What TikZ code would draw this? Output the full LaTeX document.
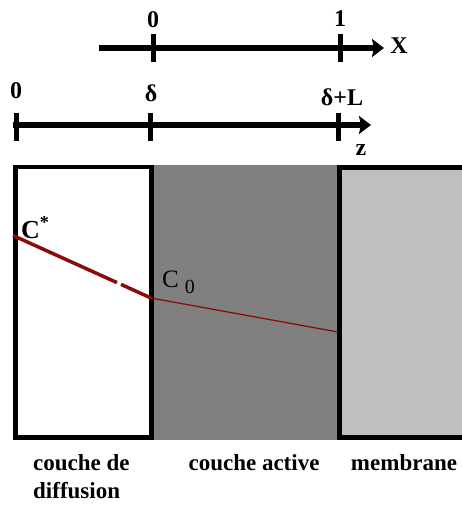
\documentclass[tikz,border=0pt]{standalone}
\usepackage{fontspec}
\usepackage{graphicx}
\setmainfont{Liberation Serif}
\usetikzlibrary{arrows.meta}
\definecolor{redline}{RGB}{140,10,10}
\definecolor{darkbox}{RGB}{128,128,128}
\definecolor{lightbox}{RGB}{191,191,191}
\begin{document}
\begin{tikzpicture}[x=1pt,y=-1pt,
 axis/.style={line width=6pt,-{Stealth[length=12pt,width=18pt,inset=2pt]}},
 tickline/.style={line width=5pt},
 lab/.style={inner sep=0pt,font=\fontsize{24}{24}\selectfont\bfseries},
 layer/.style={inner sep=0pt,font=\fontsize{23}{28}\selectfont\bfseries},
 border/.style={line width=4.5pt},
 thickprofile/.style={draw=redline,line width=3.5pt},
 thinprofile/.style={draw=redline,line width=1.3pt}]
\useasboundingbox (0,0) rectangle (462,505);
\fill[white] (0,0) rectangle (462,505);

% upper axis X
\coordinate (xa) at (99,48);
\coordinate (xb) at (384,48);
\draw[axis] (xa) -- (xb);
\coordinate (xt0a) at (153,34); \coordinate (xt0b) at (153,62);
\coordinate (xt1a) at (340,34); \coordinate (xt1b) at (340,62);
\draw[tickline] (xt0a) -- (xt0b);
\draw[tickline] (xt1a) -- (xt1b);
\node[lab] (x0) at (153,20) {0};
\node[lab] (x1) at (340,19) {1};
\node[lab] (xl) at (399,46) {X};

% lower axis z
\coordinate (za) at (13,125);
\coordinate (zb) at (371,125);
\draw[axis] (za) -- (zb);
\coordinate (zt0a) at (16,113); \coordinate (zt0b) at (16,141);
\coordinate (zt1a) at (150,113); \coordinate (zt1b) at (150,141);
\coordinate (zt2a) at (338,113); \coordinate (zt2b) at (338,141);
\draw[tickline] (zt0a) -- (zt0b);
\draw[tickline] (zt1a) -- (zt1b);
\draw[tickline] (zt2a) -- (zt2b);
\node[lab] (z0) at (16,91) {0};
\node[lab] (zd) at (151,93) {δ};
\node[lab] (zdl) at (342,97) {δ+L};
\node[lab] (zl) at (361,150) {z};

% layers
\begin{scope}
\clip (0,0) rectangle (462,505);
\fill[darkbox] (151,165) rectangle (339,440);
\draw[border,fill=lightbox] (339.5,167.5) rectangle (480,437.5);
\draw[border,fill=white] (15.5,167) rectangle (151.5,437.5);
\end{scope}

% concentration profile
\coordinate (cs) at (13,235.5);
\coordinate (g1) at (117,282.6);
\coordinate (g2) at (121,284.4);
\coordinate (c0) at (151,298);
\coordinate (cm) at (338,332);
\draw[thickprofile] (cs) -- (g1);
\draw[thickprofile] (g2) -- (c0);
\draw[thinprofile] (c0) -- (cm);

\node[inner sep=0pt,anchor=base west,font=\fontsize{26}{26}\selectfont\bfseries] (cstar) at (21,238) {C\textsuperscript{*}};
\node[inner sep=0pt,anchor=base west,font=\fontsize{25}{25}\selectfont] (czero) at (162,287) {C\hspace{6pt}\raisebox{-6pt}{\fontsize{20}{20}\selectfont 0}};

% layer names
\node[layer,anchor=base west] (diff1) at (33,470) {couche de};
\node[layer,anchor=base west] (diff2) at (33,498) {diffusion};
\node[layer,anchor=base] (active) at (254,470) {couche active};
\node[layer,anchor=base] (memb) at (404,470) {membrane};
\end{tikzpicture}
\end{document}
